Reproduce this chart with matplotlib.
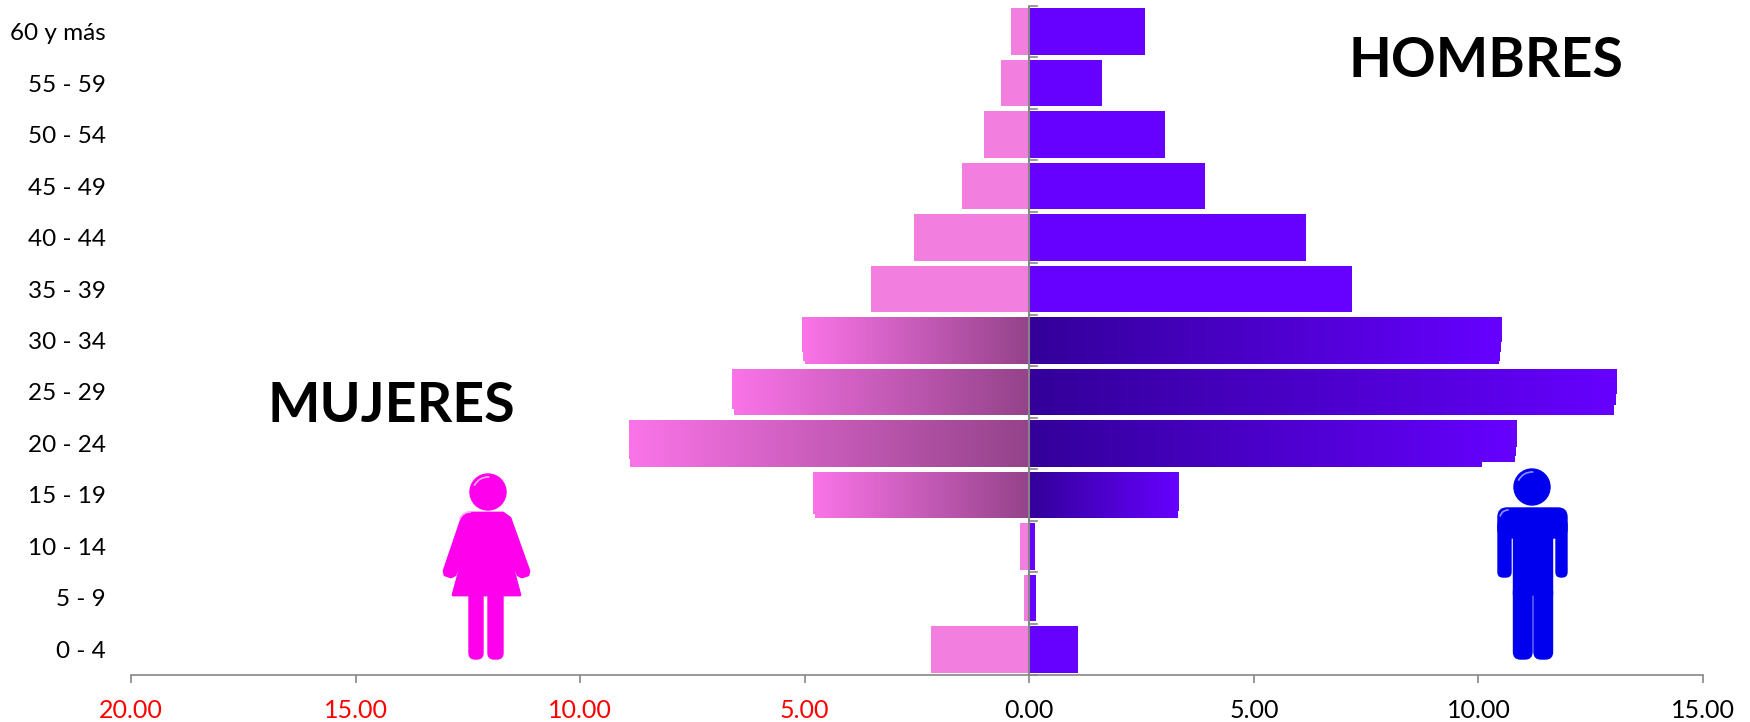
import numpy as np
import matplotlib
matplotlib.use('Agg')
import matplotlib.pyplot as plt
from matplotlib.colors import LinearSegmentedColormap
from matplotlib.patches import Arc, Circle, FancyBboxPatch, Polygon, Rectangle

plt.rcParams['font.family'] = ['Lato', 'DejaVu Sans']

# Age groups, bottom to top
grupos = ['0 - 4', '5 - 9', '10 - 14', '15 - 19', '20 - 24', '25 - 29', '30 - 34',
          '35 - 39', '40 - 44', '45 - 49', '50 - 54', '55 - 59', '60 y más']
hombres = [1.09, 0.16, 0.13, 3.33, 10.85, 13.09, 10.53, 7.18, 6.16, 3.92, 3.03, 1.62, 2.58]
mujeres = [2.19, 0.12, 0.20, 4.82, 8.92, 6.63, 5.07, 3.53, 2.56, 1.49, 1.00, 0.62, 0.40]
# these groups have a gradient fill
degradado = ['15 - 19', '20 - 24', '25 - 29', '30 - 34']
xticks = [-20, -15, -10, -5, 0, 5, 10, 15]

# the bar ends in the reference are stepped: (group, share of bar from top, value at that step)
muescas_h = [('30 - 34', 0.53, 10.51), ('30 - 34', 0.74, 10.49), ('30 - 34', 0.95, 10.46),
             ('25 - 29', 0.55, 13.07), ('25 - 29', 0.78, 13.02),
             ('20 - 24', 0.57, 10.83), ('20 - 24', 0.78, 10.81), ('20 - 24', 0.89, 10.08),
             ('15 - 19', 0.85, 3.30)]
muescas_m = [('30 - 34', 0.74, 5.04), ('30 - 34', 0.95, 5.00),
             ('25 - 29', 0.70, 6.61), ('25 - 29', 0.87, 6.58),
             ('20 - 24', 0.84, 8.90), ('15 - 19', 0.90, 4.78)]

W, H = 1750, 722
fig = plt.figure(figsize=(W / 100, H / 100), dpi=100)
ax = fig.add_axes([131 / W, 1 - 675 / H, (1703 - 131) / W, (675 - 6) / H])

cm_h = LinearSegmentedColormap.from_list('h', ['#330099', '#6600FF'])
cm_m = LinearSegmentedColormap.from_list('m', ['#FA74E8', '#94438A'])
y = np.arange(len(grupos))
alto = 0.905

for i, g in enumerate(grupos):
    if g in degradado:
        for val, cm, sign in [(hombres[i], cm_h, 1), (mujeres[i], cm_m, -1)]:
            x0, x1 = (0, val) if sign > 0 else (-val, 0)
            im = ax.imshow(np.linspace(0, 1, 256).reshape(1, -1), cmap=cm, aspect='auto',
                           extent=[x0, x1, i - alto / 2, i + alto / 2], zorder=2)
            clip = ax.barh(i, x1 - x0, left=x0, height=alto, color='none', linewidth=0)[0]
            im.set_clip_path(clip)
    else:
        ax.barh(i, hombres[i], height=alto, color='#6600FF', linewidth=0, zorder=2)
        ax.barh(i, -mujeres[i], height=alto, color='#F27EE0', linewidth=0, zorder=2)

# white steps over the bar ends
for muescas, vals, sign in [(muescas_h, hombres, 1), (muescas_m, mujeres, -1)]:
    for g, frac, v in muescas:
        i = grupos.index(g)
        h = alto * (1 - frac)
        ax.barh(i - alto / 2 + h / 2, sign * (vals[i] - v + 0.03), left=sign * v, height=h,
                color='white', linewidth=0, zorder=2.5)

ax.set_xlim(-20, 15)
ax.set_ylim(-0.5, len(grupos) - 0.5)

for s in ['top', 'right', 'left']:
    ax.spines[s].set_visible(False)
ax.spines['bottom'].set_color('#868686')
ax.spines['bottom'].set_linewidth(1.2)

ax.set_xticks(xticks)
ax.set_xticklabels(['%.2f' % abs(v) for v in xticks], fontsize=18)
for lab, v in zip(ax.get_xticklabels(), xticks):
    lab.set_color('red' if v < 0 else 'black')
ax.tick_params(axis='x', length=6, width=1.2, color='#868686', pad=11)

ax.set_yticks(y)
ax.set_yticklabels(grupos, fontsize=17.5)
ax.tick_params(axis='y', length=0, pad=18)

# central axis with its small ticks
ax.axvline(0, color='#868686', linewidth=1.5, zorder=3)
for t in np.arange(len(grupos) + 1) - 0.5:
    ax.plot([0, 0.17], [t, t], color='#868686', linewidth=1.2, zorder=3, clip_on=False)

# overlay in pixels for the titles and pictograms
ov = fig.add_axes([0, 0, 1, 1], facecolor='none')
ov.set_xlim(0, W)
ov.set_ylim(H, 0)
ov.axis('off')
ov.text(391, 406, 'MUJERES', fontsize=40, fontweight='bold', ha='center', va='center')
ov.text(1486, 61, 'HOMBRES', fontsize=40, fontweight='bold', ha='center', va='center')

rosa = '#FF00EC'
ov.add_patch(Circle((488, 492), 18, color=rosa))
ov.add_patch(Polygon([[468, 513], [503, 513], [510, 518], [529, 571], [528, 575], [522, 577],
                      [518, 575], [506, 543], [520, 595], [453, 595], [467, 543], [455, 575],
                      [451, 577], [445, 575], [444, 571], [462, 518]],
                     closed=True, facecolor=rosa, edgecolor=rosa, linewidth=2, joinstyle='round'))
ov.add_patch(FancyBboxPatch((469, 590), 14, 69, boxstyle='round,pad=0,rounding_size=6', color=rosa))
ov.add_patch(FancyBboxPatch((488, 590), 15, 69, boxstyle='round,pad=0,rounding_size=6', color=rosa))
ov.add_patch(Arc((488, 492), 30, 30, theta1=205, theta2=275, color='#FFB0F5', linewidth=1.2))
ov.add_patch(Arc((470, 523), 22, 22, theta1=200, theta2=275, color='#FFB0F5', linewidth=1.2))

azul = '#0000EE'
ov.add_patch(Circle((1532, 487), 18, color=azul))
ov.add_patch(FancyBboxPatch((1498, 508), 69, 30, boxstyle='round,pad=0,rounding_size=9', color=azul))
ov.add_patch(FancyBboxPatch((1498, 520), 13, 57, boxstyle='round,pad=0,rounding_size=5', color=azul))
ov.add_patch(FancyBboxPatch((1556, 520), 11, 57, boxstyle='round,pad=0,rounding_size=5', color=azul))
ov.add_patch(Rectangle((1513.5, 510), 39, 85, color=azul, snap=False))
ov.add_patch(FancyBboxPatch((1513.5, 585), 18.5, 74, boxstyle='round,pad=0,rounding_size=7', color=azul))
ov.add_patch(FancyBboxPatch((1534, 585), 18.5, 74, boxstyle='round,pad=0,rounding_size=7', color=azul))
ov.add_patch(Arc((1532, 487), 30, 30, theta1=205, theta2=275, color='#9090FF', linewidth=1.2))
ov.add_patch(Arc((1508, 518), 16, 16, theta1=190, theta2=275, color='#9090FF', linewidth=1.2))

fig.savefig('out.png', dpi=100)
